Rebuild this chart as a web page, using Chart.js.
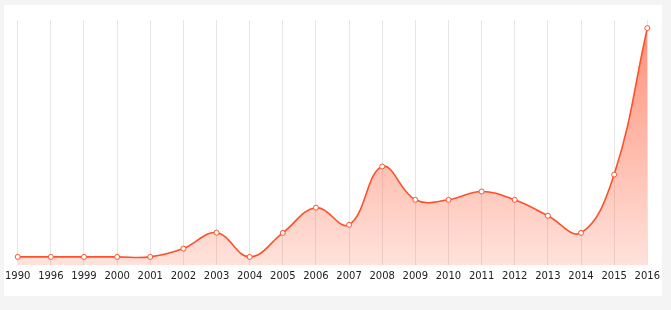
<!DOCTYPE html>
<html>
<head>
<meta charset="utf-8">
<script src="https://cdn.jsdelivr.net/npm/chart.js@4/dist/chart.umd.min.js"></script>
<style>
  html, body { margin: 0; padding: 0; background: #f4f4f4; }
  #card { position: absolute; left: 4px; top: 5px; width: 658px; height: 291px; background: #fff; }
  #lineChart { position: absolute; left: 0px; top: 5px; }
</style>
</head>
<body>
<div id="card"></div>
<canvas id="lineChart" width="665" height="291"></canvas>
<script>
  // Years along the x axis
  const years = ['1990', '1996', '1999', '2000', '2001', '2002', '2003', '2004', '2005', '2006',
                 '2007', '2008', '2009', '2010', '2011', '2012', '2013', '2014', '2015', '2016'];
  // Values (no y axis shown, scale 0-100)
  const values = [3.3, 3.3, 3.3, 3.3, 3.3, 6.7, 13.2, 3.3, 13.1, 23.4,
                  16.4, 40.2, 26.6, 26.6, 30.0, 26.6, 20.1, 13.1, 36.9, 96.7];

  const lineColor = '#ff5127';

  const ctx = document.getElementById('lineChart').getContext('2d');

  const lineChart = new Chart(ctx, {
    type: 'line',
    data: {
      labels: years,
      datasets: [{
        data: values,
        borderColor: lineColor,
        borderWidth: 1.6,
        tension: 0.4,
        pointRadius: 2.5,
        pointBorderWidth: 1,
        pointBackgroundColor: '#fff',
        pointBorderColor: lineColor,
        fill: 'origin',
        backgroundColor: function(context) {
          const area = context.chart.chartArea;
          if (!area) return 'rgba(255, 90, 50, 0.3)';
          const g = context.chart.ctx.createLinearGradient(0, area.top, 0, area.bottom);
          g.addColorStop(0, 'rgba(255, 95, 60, 0.7)');
          g.addColorStop(1, 'rgba(255, 95, 60, 0.18)');
          return g;
        }
      }]
    },
    options: {
      responsive: false,
      animation: false,
      layout: { padding: { top: 15, right: 0, bottom: 9, left: 0 } },
      plugins: { legend: { display: false }, tooltip: { enabled: false } },
      scales: {
        x: {
          offset: false,
          grid: { color: '#e6e6e6', drawTicks: false },
          border: { display: false },
          ticks: {
            color: '#222',
            padding: 5,
            maxRotation: 0,
            autoSkip: false,
            font: { family: 'DejaVu Sans', size: 10 }
          }
        },
        y: {
          display: false,
          min: 0,
          max: 100
        }
      }
    }
  });
</script>
</body>
</html>
